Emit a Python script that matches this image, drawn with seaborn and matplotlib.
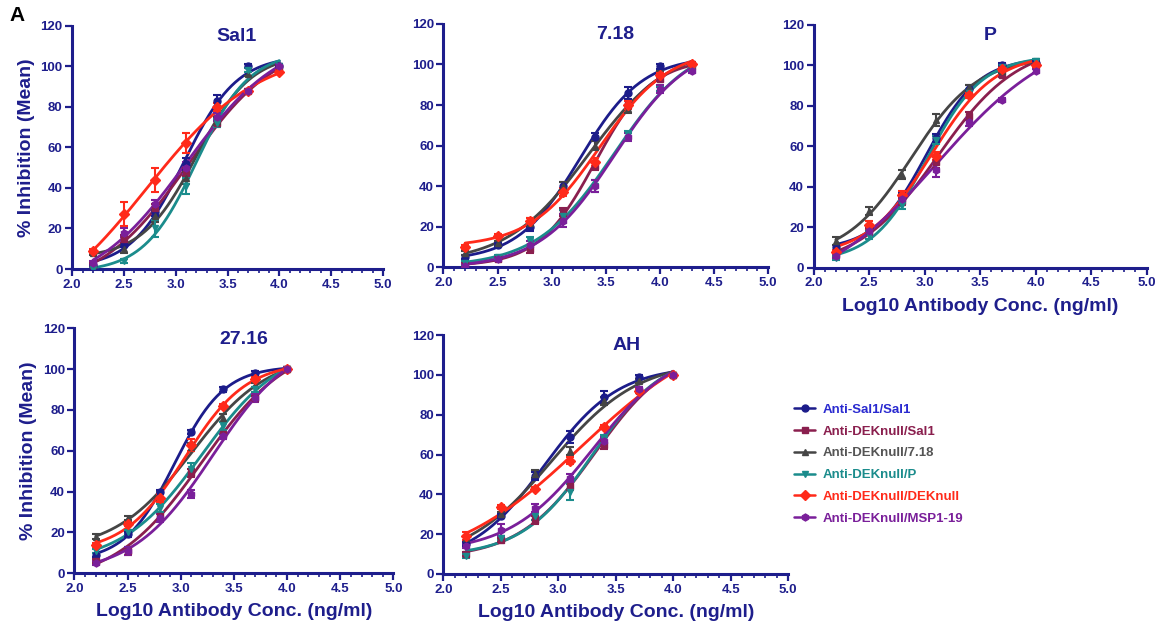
import numpy as np
import pandas as pd
import matplotlib
matplotlib.use("Agg")
import matplotlib.pyplot as plt
from matplotlib.lines import Line2D
from matplotlib.ticker import MultipleLocator
import seaborn as sns

sns.set_theme(style="white")
plt.rcParams['font.family'] = ['Liberation Sans', 'DejaVu Sans']

# ---------------- data ----------------
series_names = ["Anti-Sal1/Sal1", "Anti-DEKnull/Sal1", "Anti-DEKnull/7.18",
                "Anti-DEKnull/P", "Anti-DEKnull/DEKnull", "Anti-DEKnull/MSP1-19"]
series_colors = ["#1c1c8a", "#8a1f4e", "#454545", "#1b8c8c", "#ff2a1a", "#7a1f9a"]
legend_text_colors = ["#2a2ad0", "#8a1f4e", "#555555", "#1b8c8c", "#ff2a1a", "#7a1f9a"]
series_markers = ["o", "s", "^", "v", "D", "h"]

x_std = [2.2, 2.5, 2.8, 3.1, 3.4, 3.7, 4.0]
x_718 = [2.2, 2.5, 2.8, 3.1, 3.4, 3.7, 4.0, 4.3]

# order: Sal1, DEK/Sal1, DEK/7.18, DEK/P, DEK/DEK, DEK/MSP
sal1_vals = [
    [2, 12, 28, 52, 83, 100, 100],
    [2, 15, 30, 48, 72, 88, 99],
    [8, 10, 26, 45, 73, 96, 100],
    [0, 4, 20, 41, 72, 98, 100],
    [9, 27, 44, 62, 80, 88, 97],
    [3, 18, 32, 50, 75, 88, 100],
]
sal1_err = [
    [1, 1, 2, 3, 3, 1, 1],
    [1, 2, 2, 2, 2, 1, 1],
    [1, 2, 3, 3, 2, 1, 1],
    [1, 1, 4, 4, 2, 1, 1],
    [1, 6, 6, 5, 2, 1, 1],
    [1, 2, 2, 3, 2, 1, 1],
]
p718_vals = [
    [5, 11, 20, 40, 64, 86, 99, 100],
    [1, 4, 9, 27, 50, 80, 93, 99],
    [7, 12, 22, 40, 60, 78, 96, 100],
    [2, 5, 13, 25, 40, 65, 88, 98],
    [10, 15.5, 23, 37, 52, 80, 95, 100],
    [0.5, 4, 11, 23, 40, 64, 88, 97],
]
p718_err = [
    [1, 1, 2, 2, 2, 3, 1, 1],
    [1, 1, 2, 2, 2, 2, 1, 1],
    [1, 1, 2, 2, 2, 2, 1, 1],
    [1, 1, 2, 3, 3, 2, 1, 1],
    [1, 1, 1, 2, 2, 2, 1, 1],
    [1, 1, 2, 3, 3, 2, 2, 1],
]
p_vals = [
    [10, 20, 35, 64, 88, 100, 101],
    [7, 18, 33, 52, 75, 95, 100],
    [13, 28, 46, 73, 89, 97, 102],
    [5, 16, 31, 63, 86, 99, 102],
    [8, 21, 36, 55, 85, 98, 100],
    [6, 18, 34, 48, 72, 83, 97],
]
p_err = [
    [1, 1, 2, 2, 2, 1, 1],
    [1, 2, 2, 3, 2, 1, 1],
    [2, 2, 2, 3, 1, 1, 1],
    [1, 2, 2, 2, 2, 1, 1],
    [1, 2, 2, 2, 1, 1, 1],
    [1, 2, 2, 3, 2, 1, 1],
]
p2716_vals = [
    [9, 19, 40, 69, 90, 98, 100],
    [6, 11, 28, 49, 68, 86, 100],
    [18, 27, 38, 62, 76, 92, 100],
    [11, 20, 32, 51, 72, 90, 100],
    [14, 24, 37, 63, 82, 95, 100],
    [5, 11, 27, 39, 67, 86, 100],
]
p2716_err = [
    [1, 1, 1, 1, 1, 1, 1],
    [1, 2, 2, 2, 2, 1, 1],
    [1, 1, 2, 2, 2, 1, 1],
    [1, 1, 2, 3, 2, 1, 1],
    [1, 1, 2, 3, 1, 1, 1],
    [1, 2, 2, 2, 1, 2, 1],
]
ah_vals = [
    [15, 29, 49, 69, 89, 99, 100],
    [10, 17, 27, 44, 65, 92, 100],
    [18, 30, 50, 62, 87, 97, 100],
    [9, 18, 29, 41, 68, 92, 100],
    [19, 33.5, 42.5, 57, 74, 92, 100],
    [14, 22, 33, 48, 67, 93, 100],
]
ah_err = [
    [1, 1, 2, 3, 3, 1, 1],
    [1, 1, 2, 2, 2, 1, 1],
    [1, 1, 2, 2, 2, 1, 1],
    [1, 1, 2, 4, 2, 1, 1],
    [2, 1, 1, 2, 1, 1, 1],
    [1, 3, 2, 2, 2, 1, 1],
]

panel_titles = ["Sal1", "7.18", "P", "27.16", "AH"]
panel_x = [x_std, x_718, x_std, x_std, x_std]
panel_vals = [sal1_vals, p718_vals, p_vals, p2716_vals, ah_vals]
panel_errs = [sal1_err, p718_err, p_err, p2716_err, ah_err]

x_ticks = [2.0, 2.5, 3.0, 3.5, 4.0, 4.5, 5.0]
y_ticks = [0, 20, 40, 60, 80, 100, 120]

NAVY = "#1e1e8c"


def fit_4pl(x, y):
    """Four-parameter logistic least-squares fit (grid over x50/slope,
    linear solve for bottom/top). Returns a function."""
    x = np.asarray(x, float)
    y = np.asarray(y, float)
    best = None
    for x50 in np.linspace(2.4, 4.6, 111):
        for k in np.linspace(0.6, 5.0, 89):
            s = 1.0 / (1.0 + 10 ** ((x50 - x) * k))
            A = np.column_stack([1 - s, s])
            coef, *_ = np.linalg.lstsq(A, y, rcond=None)
            r = np.sum((A @ coef - y) ** 2)
            if best is None or r < best[0]:
                best = (r, x50, k, coef)
    _, x50, k, (bot, top) = best
    return lambda t: bot + (top - bot) / (1.0 + 10 ** ((x50 - t) * k))


# ---------------- figure ----------------
fig = plt.figure(figsize=(11.64, 6.30), dpi=100)
rects = [
    [0.062, 0.573, 0.267, 0.386],
    [0.381, 0.576, 0.279, 0.386],
    [0.699, 0.575, 0.286, 0.386],
    [0.064, 0.090, 0.274, 0.389],
    [0.381, 0.089, 0.296, 0.379],
]
show_ylabel = [True, False, False, True, False]
show_xlabel = [False, False, True, True, True]

for pi, rect in enumerate(rects):
    ax = fig.add_axes(rect)
    xs = panel_x[pi]
    for si in range(len(series_names)):
        ys = panel_vals[pi][si]
        f = fit_4pl(xs, ys)
        grid = np.linspace(min(xs), max(xs), 200)
        curve = pd.DataFrame({"x": grid, "y": f(grid)})
        sns.lineplot(data=curve, x="x", y="y", ax=ax, color=series_colors[si],
                     lw=2.0, zorder=3, estimator=None, sort=False)
        ax.errorbar(xs, ys, yerr=panel_errs[pi][si],
                    fmt=series_markers[si], color=series_colors[si], ms=5,
                    elinewidth=1.5, capsize=3, capthick=1.5, zorder=4)
    ax.set_xlim(2.0, 5.0)
    ax.set_ylim(0, 120)
    ax.set_xticks(x_ticks)
    ax.set_yticks(y_ticks)
    ax.set_xticklabels([f"{t:.1f}" for t in x_ticks])
    ax.set_yticklabels([str(t) for t in y_ticks])
    ax.xaxis.set_minor_locator(MultipleLocator(0.1))
    for s in ["top", "right"]:
        ax.spines[s].set_visible(False)
    for s in ["left", "bottom"]:
        ax.spines[s].set_color(NAVY)
        ax.spines[s].set_linewidth(2.2)
    ax.tick_params(axis="both", which="major", direction="out", length=5,
                   width=1.6, color=NAVY, labelcolor=NAVY, labelsize=9.5,
                   bottom=True, left=True, pad=2)
    ax.tick_params(axis="x", which="minor", direction="out", length=3,
                   width=1.2, color=NAVY, bottom=True)
    for lab in ax.get_xticklabels() + ax.get_yticklabels():
        lab.set_fontweight("bold")
    ax.set_xlabel("")
    ax.set_ylabel("")
    ax.text(0.53, 0.955, panel_titles[pi], transform=ax.transAxes,
            ha="center", va="center", fontsize=14, fontweight="bold",
            color=NAVY)
    if show_ylabel[pi]:
        ax.set_ylabel("% Inhibition (Mean)", fontsize=14, fontweight="bold",
                      color=NAVY, labelpad=4)
    if show_xlabel[pi]:
        ax.set_xlabel("Log10 Antibody Conc. (ng/ml)", fontsize=14,
                      fontweight="bold", color=NAVY, labelpad=6)
    ax.set_facecolor("white")

fig.text(0.008, 0.975, "A", fontsize=15, fontweight="bold", color="black",
         ha="left", va="center")

handles = [Line2D([0], [0], color=series_colors[i], marker=series_markers[i],
                  lw=1.8, ms=5) for i in range(len(series_names))]
leg = fig.legend(handles, series_names, loc="upper left",
                 bbox_to_anchor=(0.672, 0.378), frameon=False,
                 handlelength=1.6, handletextpad=0.6, labelspacing=0.72,
                 prop=dict(size=9.5, weight="bold"))
for t, c in zip(leg.get_texts(), legend_text_colors):
    t.set_color(c)

fig.savefig("out.png", dpi=100, facecolor="white")
